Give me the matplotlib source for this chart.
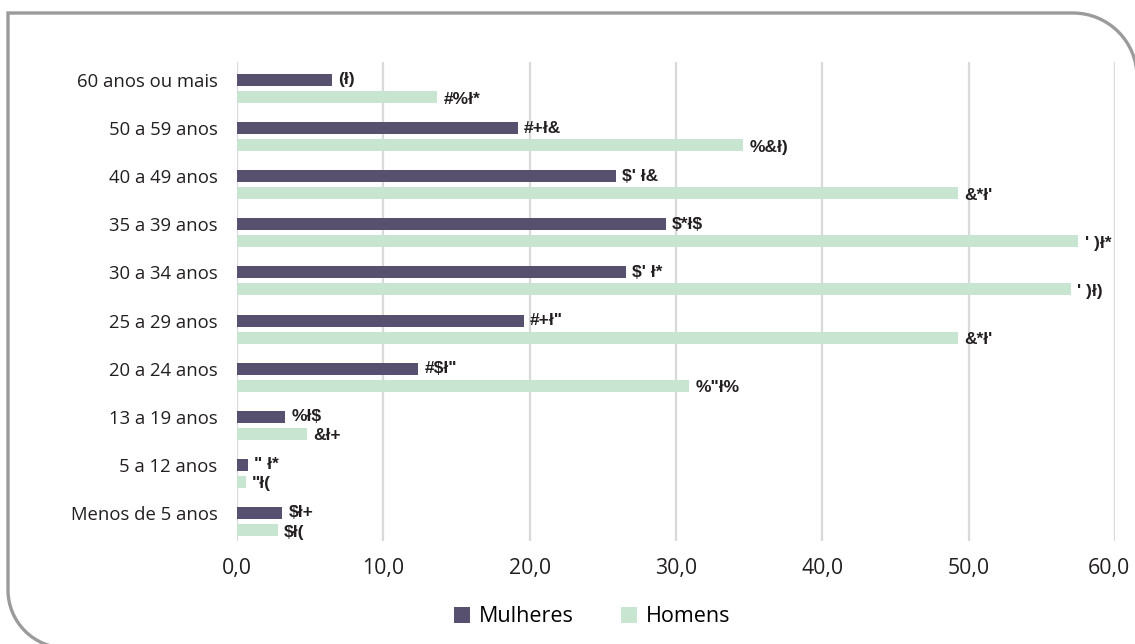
import matplotlib
matplotlib.use("Agg")
import matplotlib.pyplot as plt
from matplotlib.path import Path
from matplotlib.patches import PathPatch, Patch
from matplotlib.transforms import Affine2D, ScaledTranslation
import numpy as np

plt.rcParams["text.parse_math"] = False

# ---------------- data (top to bottom as in the picture) ----------------
categories = ["60 anos ou mais", "50 a 59 anos", "40 a 49 anos", "35 a 39 anos",
              "30 a 34 anos", "25 a 29 anos", "20 a 24 anos", "13 a 19 anos",
              "5 a 12 anos", "Menos de 5 anos"]
mulheres = [6.5, 19.2, 25.9, 29.3, 26.6, 19.6, 12.4, 3.3, 0.75, 3.1]
homens = [13.7, 34.6, 49.3, 57.5, 57.0, 49.3, 30.9, 4.8, 0.6, 2.8]
labels_mulheres = ["(ł)", "#+ł&", "$' ł&", "$*ł$", "$' ł*", "#+ł\"", "#$ł\"", "%ł$", "\" ł*", "$ł+"]
labels_homens = ["#%ł*", "%&ł)", "&*ł'", "' )ł*", "' )ł)", "&*ł'", "%\"ł%", "&ł+", "\"ł(", "$ł("]
xtick_values = [0, 10, 20, 30, 40, 50, 60]
xtick_labels = ["0,0", "10,0", "20,0", "30,0", "40,0", "50,0", "60,0"]
series_names = ["Mulheres", "Homens"]

C_M = "#58506f"
C_H = "#c7e5d1"

W, H = 1135, 644
fig = plt.figure(figsize=(W / 100, H / 100), dpi=100)
fig.patch.set_facecolor("white")

# axes placement in pixels
x0, x1 = 237, 1115
y_top, y_bot = 62, 541
ax = fig.add_axes([x0 / W, 1 - y_bot / H, (x1 - x0) / W, (y_bot - y_top) / H])

n = len(categories)
pos = np.arange(n)[::-1]  # top category at highest position
off = 0.177
bh = 0.25
ax.barh(pos + off, mulheres, height=bh, color=C_M, zorder=3)
ax.barh(pos - off, homens, height=bh, color=C_H, zorder=3)

lab_font = dict(family=["Liberation Sans Narrow", "Liberation Sans", "DejaVu Sans"],
                fontweight="bold", fontsize=12.5, color="#231f20")
for p, v, t in zip(pos, mulheres, labels_mulheres):
    ax.annotate(t, (v, p + off), xytext=(4.5, 0), textcoords="offset points",
                ha="left", va="center", **lab_font, zorder=4)
for p, v, t in zip(pos, homens, labels_homens):
    ax.annotate(t, (v, p - off), xytext=(4.5, -1.5), textcoords="offset points",
                ha="left", va="center", **lab_font, zorder=4)

ax.set_xlim(0, 60)
ax.set_ylim(-0.405, 9.55)
ax.set_xticks(xtick_values)
ax.set_xticklabels(xtick_labels, fontsize=15.3, family="Open Sans", color="#231f20")
ax.set_yticks(pos + off)
ax.set_yticklabels(categories, fontsize=13.3, family="Open Sans", color="#231f20")
ax.tick_params(axis="both", length=0)
ax.tick_params(axis="x", pad=12)
ax.tick_params(axis="y", pad=14)
for s in ax.spines.values():
    s.set_visible(False)
ax.xaxis.grid(True, color="#d9d9d9", linewidth=1.6, zorder=0)
ax.set_axisbelow(True)

# nudge the last x tick label a little left so it stays inside the figure
last = ax.get_xticklabels()[-1]
last.set_transform(last.get_transform() + ScaledTranslation(-6 / 100, 0, fig.dpi_scale_trans))

# legend
handles = [Patch(facecolor=C_M, edgecolor="none"), Patch(facecolor=C_H, edgecolor="none")]
fig.legend(handles, series_names, loc="center", bbox_to_anchor=(592 / W, 1 - 617 / H),
           ncol=2, frameon=False, handlelength=0.75, handleheight=0.75,
           handletextpad=0.4, columnspacing=2.2,
           prop=dict(family="Open Sans", size=15.5))

# rounded frame (pixel coordinates, y downward)
k = 0.5523
r1 = 64   # top-right radius
r2 = 58   # bottom-left radius
xl, yt = 8, 13
xr = 1073 + r1
yb = 590 + r2
verts = [
    (xr, 720), (xr, yt + r1),
    (xr, yt + r1 - k * r1), (xr - r1 + k * r1, yt), (xr - r1, yt),
    (xl, yt), (xl, yb - r2),
    (xl, yb - r2 + k * r2), (xl + r2 - k * r2, yb), (xl + r2, yb),
    (1300, yb),
]
codes = [Path.MOVETO, Path.LINETO,
         Path.CURVE4, Path.CURVE4, Path.CURVE4,
         Path.LINETO, Path.LINETO,
         Path.CURVE4, Path.CURVE4, Path.CURVE4,
         Path.LINETO]
tr = Affine2D().scale(1 / W, -1 / H).translate(0, 1) + fig.transFigure
frame = PathPatch(Path(verts, codes), fill=False, edgecolor="#9b9b9b",
                  linewidth=2.4, transform=tr, clip_on=False)
fig.add_artist(frame)

fig.savefig("out.png", dpi=100)
